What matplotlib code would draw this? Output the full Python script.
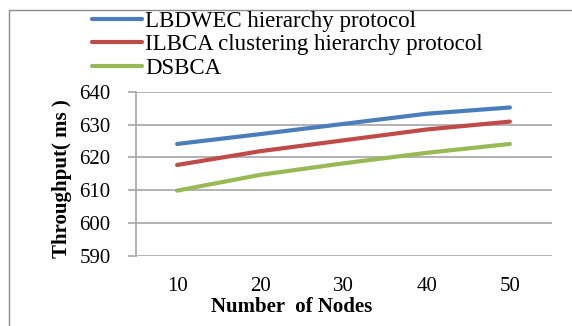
import matplotlib
matplotlib.use("Agg")
import matplotlib.pyplot as plt
from matplotlib.lines import Line2D

categories = ["10", "20", "30", "40", "50"]
series_names = ["LBDWEC hierarchy protocol", "ILBCA clustering hierarchy protocol", "DSBCA"]
lbdwec = [624.1, 627.1, 630.2, 633.3, 635.2]
ilbca = [617.7, 621.9, 625.2, 628.5, 630.9]
dsbca = [609.9, 614.7, 618.2, 621.4, 624.1]
yticks = [590, 600, 610, 620, 630, 640]
colors = ["#4a7ebb", "#be4b48", "#98b954"]

plt.rcParams['font.family'] = ['Liberation Serif', 'DejaVu Serif']

W, H = 572, 326
fig = plt.figure(figsize=(W / 100, H / 100), dpi=100)
ax = fig.add_axes([135.5 / W, 1 - 256 / H, 416 / W, (256 - 91.7) / H])

x = list(range(len(categories)))
for vals, c, name in zip([lbdwec, ilbca, dsbca], colors, series_names):
    ax.plot(x, vals, color=c, lw=3.0, solid_capstyle='round', label=name)

ax.set_xlim(-0.5, len(categories) - 0.5)
ax.set_ylim(590, 640)
ax.set_yticks(yticks)
ax.set_xticks(x)
ax.set_xticklabels(categories)
ax.grid(axis='y', color='#a6a6a6', lw=1.2)
ax.set_axisbelow(True)
for s in ['top', 'right']:
    ax.spines[s].set_visible(False)
ax.spines['bottom'].set_visible(False)
ax.spines['left'].set_color('#a6a6a6')
ax.spines['left'].set_linewidth(1.2)
ax.tick_params(axis='y', length=6, width=1.2, color='#a6a6a6', labelsize=15, pad=12)
ax.tick_params(axis='x', length=0, labelsize=15, pad=15)

fig.text(292 / W, 1 - 307 / H, "Number  of Nodes", fontsize=15, fontweight='bold',
         ha='center', va='center')
fig.text(62 / W, 1 - 179 / H, "Throughput( ms )", fontsize=15, fontweight='bold',
         ha='center', va='center', rotation=90)

leg = fig.legend(loc='upper left', bbox_to_anchor=(92 / W, 1 - 11 / H), frameon=False,
                 fontsize=16.5, handlelength=2.2, handletextpad=0.12, labelspacing=0.1,
                 borderpad=0, borderaxespad=0)

fig.add_artist(Line2D([9 / W, 9 / W, 1], [0, 1 - 10 / H, 1 - 10 / H],
                      transform=fig.transFigure, color='#8c8c8c', lw=1.0))

fig.savefig("out.png", dpi=100)
